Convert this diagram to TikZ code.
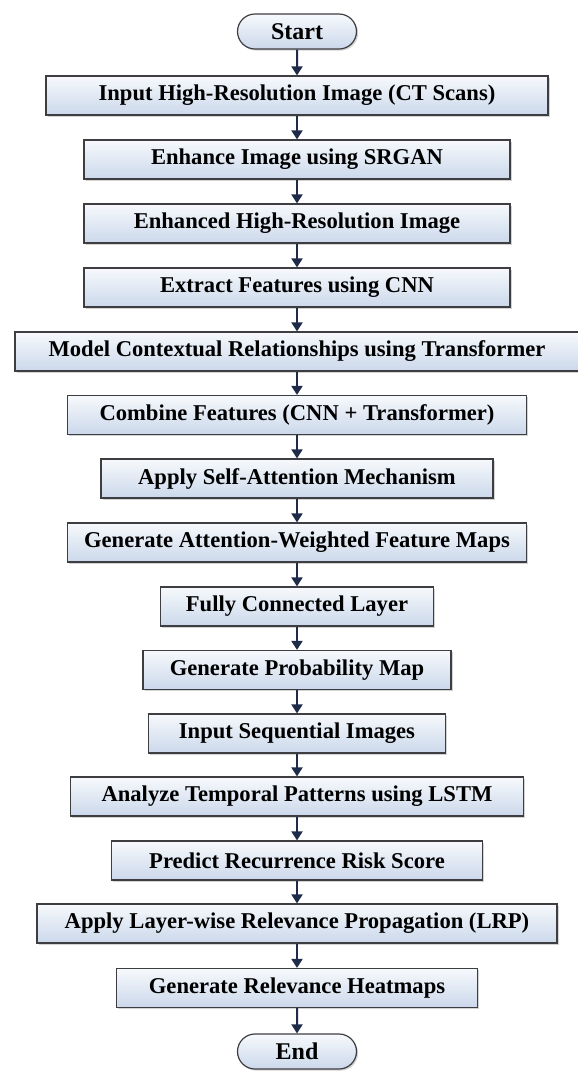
\documentclass[tikz,border=0pt]{standalone}
\usepackage{fontspec}
\setmainfont{Liberation Serif}
\usetikzlibrary{arrows.meta,shadows,shapes.misc}
\definecolor{boxtop}{RGB}{247,249,252}
\definecolor{boxbot}{RGB}{203,216,235}
\definecolor{boxline}{RGB}{62,62,66}
\definecolor{arrowcol}{RGB}{30,44,74}
\tikzset{
  stepbox/.style={rectangle, draw=boxline, line width=0.6pt,
    top color=boxtop, bottom color=boxbot,
    minimum height=19.5pt, inner sep=0pt,
    font=\fontsize{11.3}{13}\selectfont\bfseries,
    drop shadow={shadow xshift=0.8pt, shadow yshift=-0.8pt, opacity=0.35}},
  terminal/.style={stepbox, rounded rectangle, minimum width=59.5pt,
    minimum height=17.5pt, font=\fontsize{12}{14}\selectfont\bfseries},
  flow/.style={-{Triangle[width=5.5pt,length=4.5pt]}, line width=1pt, draw=arrowcol}
}
\begin{document}
\begin{tikzpicture}[x=0.5pt, y=-0.5pt]
  \useasboundingbox (0,0) rectangle (578,1073);
  \node[terminal] (start) at (297,31.5) {Start};
  % process steps: index / centre y / box width
  \foreach \i/\y/\w/\txt in {
      1/95.5/251pt/{Input High-Resolution Image (CT Scans)},
      2/159.5/213pt/{Enhance Image using SRGAN},
      3/223.5/213pt/{Enhanced High-Resolution Image},
      4/287.5/213pt/{Extract Features using CNN},
      5/351.5/282pt/{Model Contextual Relationships using Transformer},
      6/415/229.5pt/{Combine Features (CNN + Transformer)},
      7/478.5/196pt/{Apply Self-Attention Mechanism},
      8/542.5/229.5pt/{Generate Attention-Weighted Feature Maps},
      9/606.5/136.5pt/{Fully Connected Layer},
      10/670/154pt/{Generate Probability Map},
      11/733.5/148.5pt/{Input Sequential Images},
      12/796.5/226.5pt/{Analyze Temporal Patterns using LSTM},
      13/860.5/185.5pt/{Predict Recurrence Risk Score},
      14/923.5/260pt/{Apply Layer-wise Relevance Propagation (LRP)},
      15/988/180.5pt/{Generate Relevance Heatmaps}} {
    \node[stepbox, minimum width=\w] (b\i) at (297,\y) {\txt};
  }
  \node[terminal] (end) at (297,1051.5) {End};
  \draw[flow] (start) -- (b1);
  \foreach \i [count=\j from 2] in {1,...,14} \draw[flow] (b\i) -- (b\j);
  \draw[flow] (b15) -- (end);
\end{tikzpicture}
\end{document}
